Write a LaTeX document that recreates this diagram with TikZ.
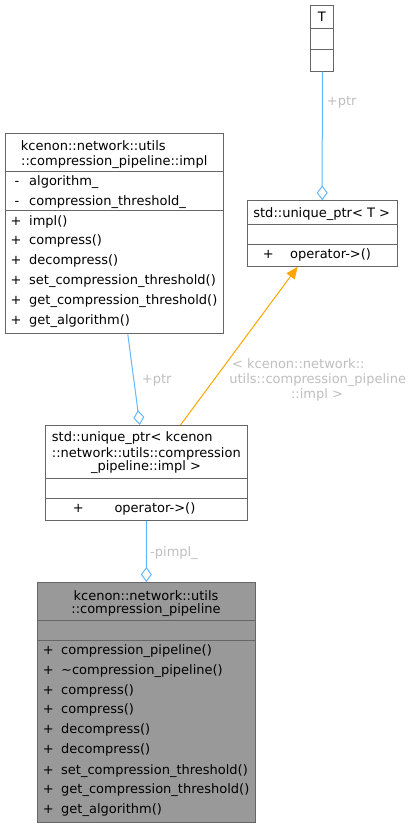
\documentclass[tikz,border=0pt]{standalone}
\usepackage{fontspec}
\usetikzlibrary{arrows.meta}
\newfontfamily\dvsans{DejaVu Sans}
\newcommand\dfont{\dvsans\fontsize{13}{16}\selectfont}
\definecolor{boxc}{HTML}{666666}
\definecolor{edgeb}{HTML}{63B8FF}
\definecolor{edgeo}{HTML}{FFA500}
\definecolor{lblc}{HTML}{BFBFBF}
\definecolor{mainfill}{HTML}{999999}
\tikzset{
  cls/.style={draw=boxc, line width=1pt, inner sep=0pt, anchor=north west, fill=white},
  sepline/.style={draw=boxc, line width=1pt},
  txt/.style={font=\dfont, inner sep=0pt, anchor=mid west, yshift=-3pt},
  ctxt/.style={font=\dfont, inner sep=0pt, anchor=mid, yshift=-3pt},
  lbl/.style={font=\dfont, text=lblc, inner sep=0pt, anchor=mid west, yshift=-3pt},
  clbl/.style={font=\dfont, text=lblc, inner sep=0pt, anchor=mid, yshift=-3pt},
  agg/.style={draw=edgeb, line width=1pt, -{Diamond[open, length=15pt, width=11pt, line width=1pt]}},
  inh/.style={draw=edgeo, line width=1pt, -{Triangle[length=12pt, width=10pt]}}
}
\begin{document}
\begin{tikzpicture}[x=1pt,y=-1pt]
\useasboundingbox[fill=white] (0,0) rectangle (413,828);
% T
\node[cls, minimum width=23pt, minimum height=65.7pt] (T) at (310.3,5) {};
\draw[sepline] (T.west |- 0,28.3) -- (T.east |- 0,28.3);
\draw[sepline] (T.west |- 0,49) -- (T.east |- 0,49);
\node[ctxt] (Tt) at (321.8,16.6) {T};
% unique_ptr<T>
\node[cls, minimum width=150pt, minimum height=65.4pt] (uT) at (246.7,200.3) {};
\draw[sepline] (uT.west |- 0,224) -- (uT.east |- 0,224);
\draw[sepline] (uT.west |- 0,244) -- (uT.east |- 0,244);
\node[ctxt] (uTt) at (321.7,212) {std::unique\_ptr< T >};
\node[ctxt] (uTp) at (268.3,253.5) {+};
\node[txt] (uTm) at (290,253.5) {operator->()};
% impl
\node[cls, minimum width=218pt, minimum height=200pt] (impl) at (4.7,133.3) {};
\draw[sepline] (impl.west |- 0,171) -- (impl.east |- 0,171);
\draw[sepline] (impl.west |- 0,210) -- (impl.east |- 0,210);
\node[txt] (it1) at (20.7,145) {kcenon::network::utils};
\node[ctxt] (it2) at (114.3,160) {::compression\_pipeline::impl};
\node[ctxt] (ia1s) at (17,180) {-};
\node[txt] (ia1) at (29,180) {algorithm\_};
\node[ctxt] (ia2s) at (17,200) {-};
\node[txt] (ia2) at (29,200) {compression\_threshold\_};
\node[ctxt] (im1s) at (16,220) {+};
\node[txt] (im1) at (29,220) {impl()};
\node[ctxt] (im2s) at (16,239.5) {+};
\node[txt] (im2) at (29,239.5) {compress()};
\node[ctxt] (im3s) at (16,259) {+};
\node[txt] (im3) at (29,259) {decompress()};
\node[ctxt] (im4s) at (16,279) {+};
\node[txt] (im4) at (29,279) {set\_compression\_threshold()};
\node[ctxt] (im5s) at (16,299.3) {+};
\node[txt] (im5) at (29,299.3) {get\_compression\_threshold()};
\node[ctxt] (im6s) at (16,319.3) {+};
\node[txt] (im6) at (29,319.3) {get\_algorithm()};
% unique_ptr<impl>
\node[cls, minimum width=202.6pt, minimum height=95pt] (uI) at (44.7,425) {};
\draw[sepline] (uI.west |- 0,478.3) -- (uI.east |- 0,478.3);
\draw[sepline] (uI.west |- 0,498.3) -- (uI.east |- 0,498.3);
\node[txt] (uIt1) at (51.7,436.7) {std::unique\_ptr< kcenon};
\node[txt] (uIt2) at (51.7,452) {::network::utils::compression};
\node[ctxt] (uIt3) at (146,465.7) {\_pipeline::impl >};
\node[ctxt] (uIp) at (78.3,507) {+};
\node[txt] (uIm) at (114.3,507) {operator->()};
% main
\node[cls, fill=mainfill, minimum width=218.3pt, minimum height=239.7pt] (main) at (36.7,582) {};
\draw[sepline] (main.west |- 0,620) -- (main.east |- 0,620);
\draw[sepline] (main.west |- 0,640) -- (main.east |- 0,640);
\node[ctxt] (mt1) at (146,595) {kcenon::network::utils};
\node[ctxt] (mt2) at (146,608.3) {::compression\_pipeline};
\node[ctxt] (mm1s) at (48.3,649.3) {+};
\node[txt] (mm1) at (61,649.3) {compression\_pipeline()};
\node[ctxt] (mm2s) at (48.3,669.3) {+};
\node[txt] (mm2) at (61,669.3) {\textasciitilde compression\_pipeline()};
\node[ctxt] (mm3s) at (48.3,689) {+};
\node[txt] (mm3) at (61,689) {compress()};
\node[ctxt] (mm4s) at (48.3,708.7) {+};
\node[txt] (mm4) at (61,708.7) {compress()};
\node[ctxt] (mm5s) at (48.3,728.7) {+};
\node[txt] (mm5) at (61,728.7) {decompress()};
\node[ctxt] (mm6s) at (48.3,748.7) {+};
\node[txt] (mm6) at (61,748.7) {decompress()};
\node[ctxt] (mm7s) at (48.3,769) {+};
\node[txt] (mm7) at (61,769) {set\_compression\_threshold()};
\node[ctxt] (mm8s) at (48.3,788.7) {+};
\node[txt] (mm8) at (61,788.7) {get\_compression\_threshold()};
\node[ctxt] (mm9s) at (48.3,808.7) {+};
\node[txt] (mm9) at (61,808.7) {get\_algorithm()};
% edges
\draw[agg] (T.south) -- (uT.north);
\node[lbl] (l1) at (326.7,100) {+ptr};
\draw[agg] ([xshift=13.6pt]impl.south) -- ([xshift=-6.7pt]uI.north);
\node[lbl] (l2) at (141.7,378) {+ptr};
\draw[inh] ([xshift=34pt]uI.north) -- ([xshift=-24.5pt]uT.south);
\node[clbl] (l3a) at (298.3,363.3) {< kcenon::network::};
\node[clbl] (l3b) at (317.7,378.7) {utils::compression\_pipeline};
\node[clbl] (l3c) at (317,393.3) {::impl >};
\draw[agg] (uI.south) -- (main.north);
\node[lbl] (l4) at (150,551.7) {-pimpl\_};
\end{tikzpicture}
\end{document}
